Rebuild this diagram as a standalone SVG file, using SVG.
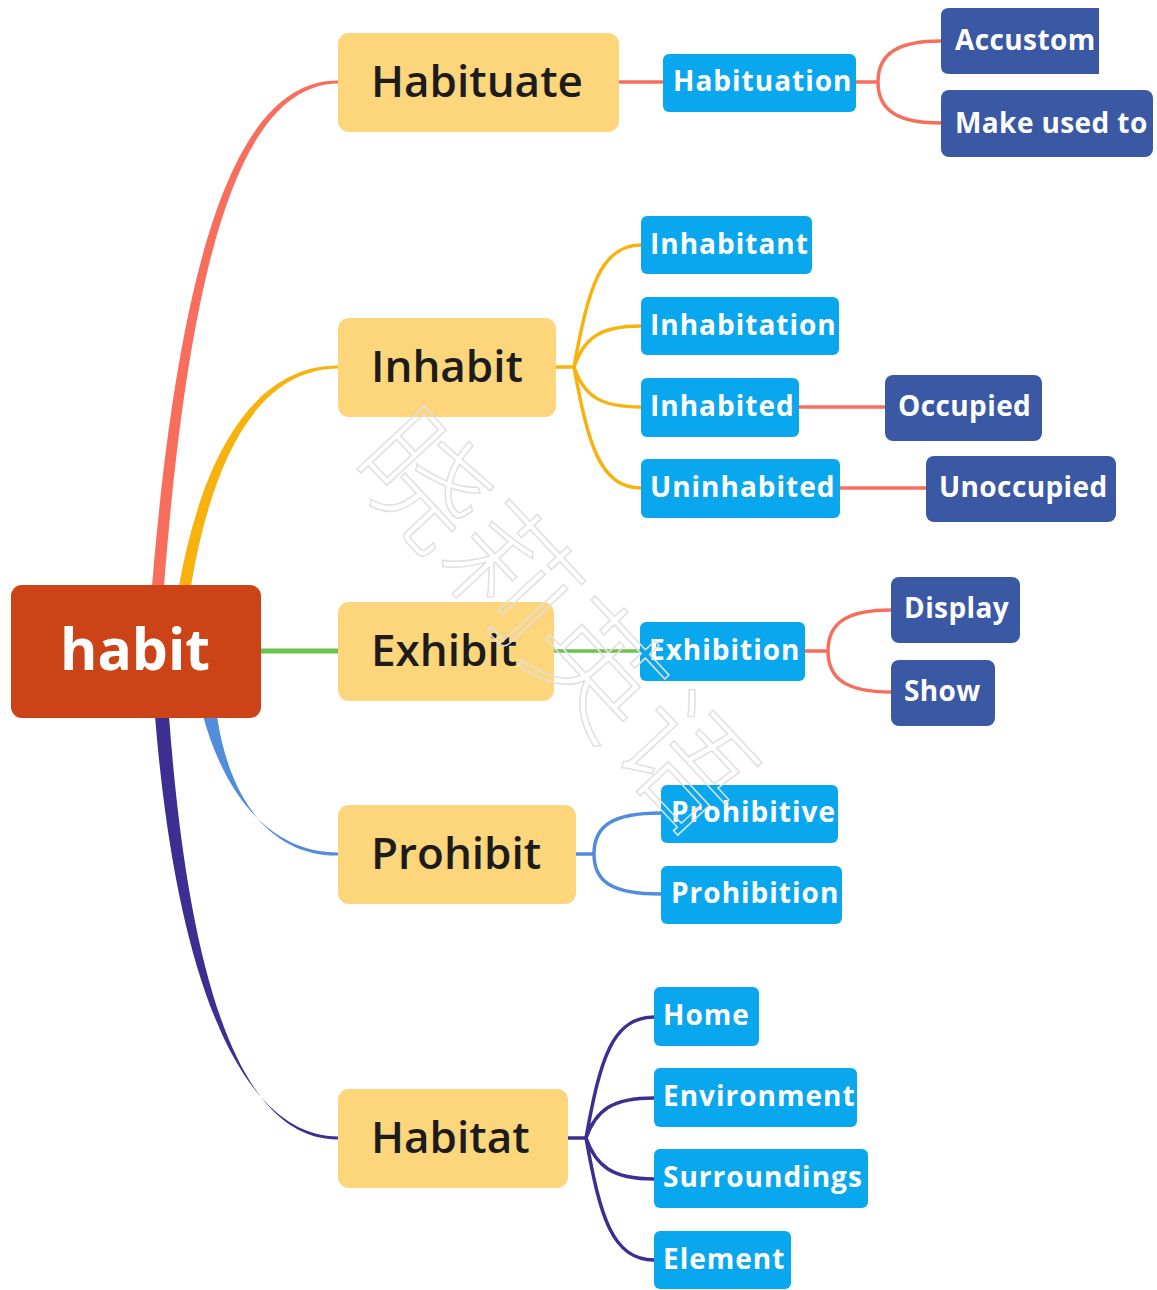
<svg xmlns="http://www.w3.org/2000/svg" width="1157" height="1290" viewBox="0 0 1157 1290">
<style>
.root{fill:#CB4317}
.main{fill:#FDD57B}
.sub{fill:#09A8EE}
.leaf{fill:#3B58A5}
.tr{font-family:"Open Sans","Noto Sans",sans-serif;font-weight:700;font-size:57px;fill:#fff}
.tm{font-family:"Open Sans","Noto Sans",sans-serif;font-weight:600;font-size:44px;fill:#1c1c1c}
.ts{font-family:"Open Sans","Noto Sans",sans-serif;font-weight:700;font-size:28px;letter-spacing:1px;fill:#fff}
.tl{font-family:"Open Sans","Noto Sans",sans-serif;font-weight:700;font-size:28px;letter-spacing:0.4px;fill:#fff}
.c{fill:none;stroke-width:3.5;stroke-linecap:round}
.red{stroke:#F76E5D}
.org{stroke:#F8B20E}
.grn{stroke:#6BC24C}
.blu{stroke:#528DDB}
.pur{stroke:#3D2F92}
.wm{font-family:"Noto Sans CJK SC",sans-serif;font-weight:300;font-size:128px;fill:none;stroke:#e0e0e0;stroke-width:1.5}
</style>
<rect width="1157" height="1290" fill="#fff"/>
<g id="connectors">
<path d="M152 586 C180 248 238 80 338 80.5 L338 83.5 C242 85 190 252 164 586 Z" fill="#F76E5D"/>
<path d="M179 586 C200 468 248 365.5 338 365.5 L338 368.5 C252 369 210 472 191 586 Z" fill="#F8B20E"/>
<line x1="258" y1="651" x2="340" y2="651" stroke="#6BC24C" stroke-width="5"/>
<path d="M203 716 C224 792 268 852.5 338 852.5 L338 855.5 C266 856 228 792 217 716 Z" fill="#528DDB"/>
<path d="M155 716 C178 1000 248 1136.5 338 1136.5 L338 1139.5 C246 1140 190 1000 169 716 Z" fill="#3D2F92"/>
<path class="c red" d="M619 82 H663"/>
<path class="c red" d="M856 82 H878 M878 82 C878 52 900 41 941 41 M878 82 C878 112 900 123 941 123"/>
<path class="c org" d="M556 367 H574 M574 367 C588 290 600 245 641 245 M574 367 C584 338 600 326 641 326 M574 367 C584 396 600 407 641 407 M574 367 C588 444 600 488 641 488"/>
<path class="c red" d="M799 407 H885"/>
<path class="c red" d="M840 488 H926"/>
<path class="c grn" d="M554 651 H640"/>
<path class="c red" d="M805 651 H828 M828 651 C828 622 848 610 891 610 M828 651 C828 680 848 692 891 692"/>
<path class="c blu" d="M576 854 H594 M594 854 C594 826 612 813 661 813 M594 854 C594 882 612 894 661 894"/>
<path class="c pur" d="M568 1138 H586 M586 1138 C600 1060 612 1017 654 1017 M586 1138 C596 1110 612 1098 654 1098 M586 1138 C596 1166 612 1179 654 1179 M586 1138 C600 1216 612 1260 654 1260"/>
</g>
<g id="n-habit"><rect class="root" x="11" y="585" width="250" height="133" rx="11"/><text class="tr" x="135" y="670" text-anchor="middle">habit</text></g>
<g id="n-habituate"><rect class="main" x="338" y="33" width="281" height="99" rx="11"/><text class="tm" x="371" y="97">Habituate</text></g>
<g id="n-inhabit"><rect class="main" x="338" y="318" width="218" height="99" rx="11"/><text class="tm" x="371" y="382">Inhabit</text></g>
<g id="n-exhibit"><rect class="main" x="338" y="602" width="216" height="99" rx="11"/><text class="tm" x="371" y="666">Exhibit</text></g>
<g id="n-prohibit"><rect class="main" x="338" y="805" width="238" height="99" rx="11"/><text class="tm" x="371" y="869">Prohibit</text></g>
<g id="n-habitat"><rect class="main" x="338" y="1089" width="230" height="99" rx="11"/><text class="tm" x="371" y="1153">Habitat</text></g>
<g id="n-habituation"><rect class="sub" x="663" y="54" width="193" height="58" rx="6"/><text class="ts" x="673" y="91">Habituation</text></g>
<g id="n-accustom"><path class="leaf" d="M949 8 H1099 V74 H949 Q941 74 941 66 V16 Q941 8 949 8 Z"/><text class="tl" x="955" y="50">Accustom</text></g>
<g id="n-makeusedto"><rect class="leaf" x="941" y="90" width="212" height="67" rx="8"/><text class="tl" x="955" y="133">Make used to</text></g>
<g id="n-inhabitant"><rect class="sub" x="641" y="216" width="171" height="58" rx="6"/><text class="ts" x="650" y="254">Inhabitant</text></g>
<g id="n-inhabitation"><rect class="sub" x="641" y="297" width="198" height="58" rx="6"/><text class="ts" x="650" y="335">Inhabitation</text></g>
<g id="n-inhabited"><rect class="sub" x="641" y="378" width="158" height="59" rx="6"/><text class="ts" x="650" y="416">Inhabited</text></g>
<g id="n-uninhabited"><rect class="sub" x="641" y="459" width="199" height="59" rx="6"/><text class="ts" x="650" y="497">Uninhabited</text></g>
<g id="n-occupied"><rect class="leaf" x="885" y="375" width="157" height="66" rx="8"/><text class="tl" x="898" y="416">Occupied</text></g>
<g id="n-unoccupied"><rect class="leaf" x="926" y="456" width="190" height="66" rx="8"/><text class="tl" x="939" y="497">Unoccupied</text></g>
<g id="n-exhibition"><rect class="sub" x="640" y="622" width="165" height="59" rx="6"/><text class="ts" x="649" y="660">Exhibition</text></g>
<g id="n-display"><rect class="leaf" x="891" y="577" width="129" height="66" rx="8"/><text class="tl" x="904" y="618">Display</text></g>
<g id="n-show"><rect class="leaf" x="891" y="660" width="104" height="66" rx="8"/><text class="tl" x="904" y="701">Show</text></g>
<g id="n-prohibitive"><rect class="sub" x="661" y="785" width="177" height="58" rx="6"/><text class="ts" x="671" y="822">Prohibitive</text></g>
<g id="n-prohibition"><rect class="sub" x="661" y="866" width="181" height="58" rx="6"/><text class="ts" x="671" y="903">Prohibition</text></g>
<g id="n-home"><rect class="sub" x="654" y="987" width="105" height="59" rx="6"/><text class="ts" x="663" y="1025">Home</text></g>
<g id="n-environment"><rect class="sub" x="654" y="1068" width="203" height="59" rx="6"/><text class="ts" x="663" y="1106">Environment</text></g>
<g id="n-surroundings"><rect class="sub" x="654" y="1149" width="214" height="59" rx="6"/><text class="ts" x="663" y="1187">Surroundings</text></g>
<g id="n-element"><rect class="sub" x="654" y="1231" width="137" height="58" rx="6"/><text class="ts" x="663" y="1269">Element</text></g>
<g id="watermark"><text class="wm" text-anchor="middle" transform="translate(553 622) rotate(47)" y="45">晓莉英语</text></g>
</svg>
